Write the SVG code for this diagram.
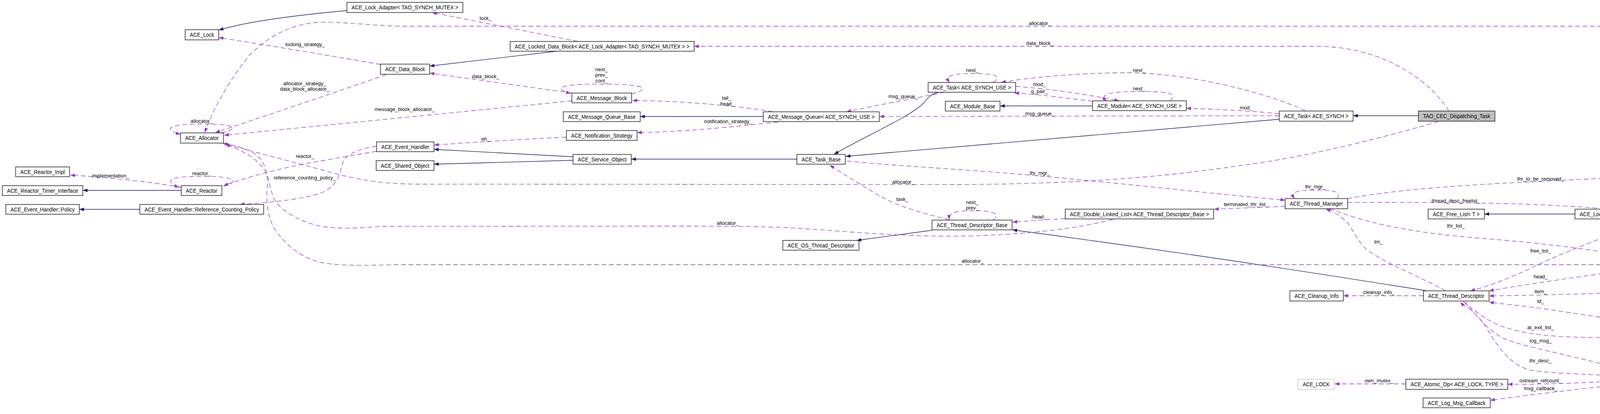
<svg xmlns="http://www.w3.org/2000/svg" width="4947" height="1059" viewBox="0 0 4947 1059">
<style>
.node rect{fill:#fff;stroke:#000;stroke-width:1.3}
.node text{font-family:"Liberation Sans",Arial,sans-serif;font-size:14px;text-anchor:middle;fill:#000}
.inh{fill:none;stroke:#191970;stroke-width:1.3;marker-end:url(#an)}
.use{fill:none;stroke:#9a32cd;stroke-width:1.3;stroke-dasharray:12,7;marker-end:url(#ap)}
.lbl{font-family:"Liberation Sans",Arial,sans-serif;font-size:13px;text-anchor:middle;fill:#000}
</style>
<defs>
<marker id="an" markerUnits="userSpaceOnUse" markerWidth="13" markerHeight="10" refX="12" refY="4.5" orient="auto"><path d="M0,0 L12,4.5 L0,9 z" fill="#191970"/></marker>
<marker id="ap" markerUnits="userSpaceOnUse" markerWidth="13" markerHeight="10" refX="12" refY="4.5" orient="auto"><path d="M0,0 L12,4.5 L0,9 z" fill="#9a32cd"/></marker>
</defs>
<rect x="0" y="0" width="4947" height="1059" fill="#fff"/>
<g id="connectors">
<path class="inh" d="M888,27 C800,35 650,50 560,77"/>
<path class="inh" d="M1425,131 L1100,169"/>
<path class="inh" d="M1954,298 L1639,298"/>
<path class="inh" d="M1467,401 L1111,382"/>
<path class="inh" d="M1467,410 L1111,420"/>
<path class="inh" d="M2040,407 L1616,407"/>
<path class="inh" d="M2402,236 C2380,242 2374,252 2366,262 C2330,300 2200,355 2135,395"/>
<path class="inh" d="M2797,271 L2560,271"/>
<path class="inh" d="M3275,305 L2165,400"/>
<path class="inh" d="M3631,296 L3464,296"/>
<path class="inh" d="M464,487 L212,487"/>
<path class="inh" d="M358,535.5 L203,535.5"/>
<path class="inh" d="M2386,589 L2193,615"/>
<path class="inh" d="M3653,744 Q3100,655 2592,588"/>
<path class="inh" d="M4032,547.5 L3800,547.5"/>

<path class="use" d="M1479,106 L1106,32"/>
<path class="use" d="M974,165 C900,152 760,128 560,96"/>
<path class="use" d="M989,191 C900,222 700,290 551,339"/>
<path class="use" d="M1464,238 L1100,187"/>
<path class="use" d="M1617,240 C1665,228 1660,215 1540,215 C1420,215 1420,228 1461,239"/>
<path class="use" d="M1464,258 L574,346"/>
<path class="use" d="M1979,286 C1900,272 1750,258 1619,257"/>
<path class="use" d="M1992,312 C1900,322 1750,338 1631,339"/>
<path class="use" d="M1450,351 C1300,358 1200,365 1111,371"/>
<path class="use" d="M2418,236 C2380,244 2250,268 2167,286"/>
<path class="use" d="M3275,296 L2251,298"/>
<path class="use" d="M2542,211 C2562,198 2560,188 2490,188 C2430,188 2420,196 2431,211"/>
<path class="use" d="M3341,283 C3250,240 3050,186 2880,186 C2750,187 2620,200 2563,211"/>
<path class="use" d="M2600,221 C2700,228 2800,245 2865,258"/>
<path class="use" d="M2797,259 C2720,250 2650,240 2597,238"/>
<path class="use" d="M2995,258 C3015,240 3000,234 2916,234 C2830,234 2815,244 2833,258"/>
<path class="use" d="M3275,291 C3200,283 3100,279 3037,277"/>
<path class="use" d="M4757,423 C4700,330 4600,180 4440,110 C4380,82 4330,67 4250,67 L1040,67 C960,67 880,55 820,57 C740,60 680,100 640,140 C590,200 550,270 524,339"/>
<path class="use" d="M3709,284 C3650,190 3520,118 3370,118.5 L1777,118.5"/>
<path class="use" d="M3682,311 C3550,350 3350,400 3200,420 C3000,450 2800,470 2460,472 L1060,471 C950,470 880,450 830,436 L574,368"/>
<path class="use" d="M2169,412 C2300,425 2500,435 2672,451 C2900,472 3100,495 3290,512"/>
<path class="use" d="M3423,508 C3432,490 3420,486 3367,486 C3310,486 3305,495 3314,508"/>
<path class="use" d="M2430,562 C2380,550 2300,530 2250,500 C2200,470 2150,440 2124,422"/>
<path class="use" d="M2542,563 C2558,550 2555,539 2490,539 C2440,539 2428,546 2431,562"/>
<path class="use" d="M2727,559 C2680,562 2640,565 2592,568"/>
<path class="use" d="M3290,528 C3230,530 3170,533 3108,535"/>
<path class="use" d="M2849,561 C2780,580 2650,600 2460,604 C2300,606 2150,590 2010,582 C1900,578 1800,578.5 1640,578.5 L975,579 C920,584 870,586 830,580 C780,572 730,548 705,515 C690,490 688,440 670,410 C650,385 610,372 570,367"/>
<path class="use" d="M4098,677 L1013,677 C940,679 870,681 820,671 C770,658 735,630 705,589 C680,550 682,500 685,470 C688,430 650,395 577,369"/>
<path class="use" d="M964,387 C900,398 860,405 830,410 C740,425 640,450 572,475"/>
<path class="use" d="M572,477 C612,465 610,451 516,451 C430,451 420,462 458,480"/>
<path class="use" d="M464,479 C400,468 300,455 180,448"/>
<path class="use" d="M964,374 C920,380 885,395 878,415 C870,440 868,470 830,490 C790,508 700,518 614,523"/>
<path class="use" d="M566,340 C612,330 610,317 519,317 C440,317 410,328 462,344"/>
<path class="use" d="M3449,508 C3600,480 3800,470 4110,456 C4300,447 4450,440 4590,439"/>
<path class="use" d="M3450,518 C3600,517 3800,519 3900,522 C4000,526 4060,530 4110,534"/>
<path class="use" d="M4753,453 C4730,510 4680,580 4620,630 C4560,680 4470,715 4403,731"/>
<path class="use" d="M3404,534 C3500,570 3600,595 3809,611 C3950,622 4100,640 4206,664"/>
<path class="use" d="M3701,744 C3620,700 3560,680 3500,640 C3470,610 3465,590 3450,570 C3430,550 3410,540 3394,535"/>
<path class="use" d="M4233,560 C4150,590 4000,645 3915,688 C3850,718 3800,735 3764,744"/>
<path class="use" d="M4179,690 C4100,700 3950,720 3812,744"/>
<path class="use" d="M4135,749 C4050,752 3950,755 3812,757"/>
<path class="use" d="M4190,825 C4150,820 4100,812 3968,792 C3900,782 3850,778 3812,773"/>
<path class="use" d="M4343,827 C4378,815 4370,802 4270,802 C4175,802 4160,810 4190,826"/>
<path class="use" d="M3746,771 C3780,800 3820,830 3862,840 C3920,858 4000,864 4110,863 C4150,862 4180,857 4194,852"/>
<path class="use" d="M3751,773 C3790,820 3820,855 3862,871 C3920,890 4000,905 4110,933 C4150,943 4190,948 4211,952"/>
<path class="use" d="M4211,969 C4180,965 4140,962 4110,960 C4000,955 3940,952 3915,946 C3860,930 3830,880 3800,830 C3770,790 3745,780 3738,773"/>
<path class="use" d="M4211,962 C4170,968 4130,973 4110,975.5 C4050,980 3950,983 3860,983"/>
<path class="use" d="M4211,970 C4170,977 4140,982 4110,988 C4000,1000 3900,1012 3815,1024"/>
<path class="use" d="M3599,982 L3417,982"/>
<path class="use" d="M3644,756.5 L3439,756.5"/>

<g id="edge-labels">
<text class="lbl" x="1243" y="51">lock_</text>
<text class="lbl" x="781" y="118">locking_strategy_</text>
<text class="lbl" x="780" y="218">allocator_strategy_</text>
<text class="lbl" x="780" y="232">data_block_allocator_</text>
<text class="lbl" x="1243" y="200">data_block_</text>
<text class="lbl" x="1540" y="182">next_</text>
<text class="lbl" x="1540" y="196">prev_</text>
<text class="lbl" x="1540" y="211">cont_</text>
<text class="lbl" x="1036" y="284">message_block_allocator_</text>
<text class="lbl" x="1860" y="255">tail_</text>
<text class="lbl" x="1862" y="270">head_</text>
<text class="lbl" x="1864" y="315">notification_strategy_</text>
<text class="lbl" x="1243" y="360">eh_</text>
<text class="lbl" x="2312" y="251">msg_queue_</text>
<text class="lbl" x="2662" y="295">msg_queue_</text>
<text class="lbl" x="2489" y="184">next_</text>
<text class="lbl" x="2916" y="184">next_</text>
<text class="lbl" x="2661" y="220">mod_</text>
<text class="lbl" x="2661" y="238">q_pair_</text>
<text class="lbl" x="2916" y="231">next_</text>
<text class="lbl" x="3190" y="280">mod_</text>
<text class="lbl" x="2662" y="64">allocator_</text>
<text class="lbl" x="2662" y="115">data_block_</text>
<text class="lbl" x="2312" y="470">allocator_</text>
<text class="lbl" x="2662" y="447">thr_mgr_</text>
<text class="lbl" x="3367" y="482">thr_mgr_</text>
<text class="lbl" x="2310" y="514">task_</text>
<text class="lbl" x="2489" y="522">next_</text>
<text class="lbl" x="2489" y="536">prev_</text>
<text class="lbl" x="2661" y="559">head_</text>
<text class="lbl" x="3190" y="527">terminated_thr_list_</text>
<text class="lbl" x="1863" y="575">allocator_</text>
<text class="lbl" x="2490" y="672">allocator_</text>
<text class="lbl" x="781" y="404">reactor_</text>
<text class="lbl" x="516" y="448">reactor_</text>
<text class="lbl" x="283" y="454">implementation_</text>
<text class="lbl" x="780" y="459">reference_counting_policy_</text>
<text class="lbl" x="516" y="314">allocator_</text>
<text class="lbl" x="3944" y="462">thr_to_be_removed_</text>
<text class="lbl" x="3727" y="518">thread_desc_freelist_</text>
<text class="lbl" x="4545" y="656">head_</text>
<text class="lbl" x="3727" y="582">thr_list_</text>
<text class="lbl" x="3529" y="623">tm_</text>
<text class="lbl" x="3944" y="646">free_list_</text>
<text class="lbl" x="3944" y="712">head_</text>
<text class="lbl" x="3944" y="750">item_</text>
<text class="lbl" x="3944" y="775">td_</text>
<text class="lbl" x="4268" y="799">next_</text>
<text class="lbl" x="3944" y="842">at_exit_list_</text>
<text class="lbl" x="3944" y="876">log_msg_</text>
<text class="lbl" x="3944" y="927">thr_desc_</text>
<text class="lbl" x="3944" y="978">ostream_refcount_</text>
<text class="lbl" x="3944" y="998">msg_callback_</text>
<text class="lbl" x="3530" y="978">own_mutex_</text>
<text class="lbl" x="3530" y="752">cleanup_info_</text>
</g>
</g>

<g id="n_lock" class="node"><rect x="474" y="76" width="86" height="26"/><text x="517" y="94" textLength="62" lengthAdjust="spacingAndGlyphs">ACE_Lock</text></g>
<g id="n_allocator" class="node"><rect x="462" y="340" width="110" height="26"/><text x="517" y="358" textLength="86" lengthAdjust="spacingAndGlyphs">ACE_Allocator</text></g>
<g id="n_reactor_impl" class="node"><rect x="40" y="427" width="138" height="25"/><text x="109" y="444.5" textLength="114" lengthAdjust="spacingAndGlyphs">ACE_Reactor_Impl</text></g>
<g id="n_reactor_timer_interface" class="node"><rect x="6" y="475" width="206" height="25"/><text x="109" y="492.5" textLength="182" lengthAdjust="spacingAndGlyphs">ACE_Reactor_Timer_Interface</text></g>
<g id="n_reactor" class="node"><rect x="464" y="475" width="104" height="25"/><text x="516" y="492.5" textLength="80" lengthAdjust="spacingAndGlyphs">ACE_Reactor</text></g>
<g id="n_policy" class="node"><rect x="15" y="523" width="188" height="25"/><text x="109" y="540.5" textLength="164" lengthAdjust="spacingAndGlyphs">ACE_Event_Handler::Policy</text></g>
<g id="n_ref_policy" class="node"><rect x="358" y="523" width="317" height="25"/><text x="516.5" y="540.5" textLength="293" lengthAdjust="spacingAndGlyphs">ACE_Event_Handler::Reference_Counting_Policy</text></g>
<g id="n_lock_adapter" class="node"><rect x="888" y="6" width="297" height="26"/><text x="1036.5" y="24" textLength="273" lengthAdjust="spacingAndGlyphs">ACE_Lock_Adapter&lt; TAO_SYNCH_MUTEX &gt;</text></g>
<g id="n_locked_data_block" class="node"><rect x="1306" y="106" width="471" height="25"/><text x="1541.5" y="123.5" textLength="447" lengthAdjust="spacingAndGlyphs">ACE_Locked_Data_Block&lt; ACE_Lock_Adapter&lt; TAO_SYNCH_MUTEX &gt; &gt;</text></g>
<g id="n_data_block" class="node"><rect x="974" y="164" width="126" height="26"/><text x="1037" y="182" textLength="102" lengthAdjust="spacingAndGlyphs">ACE_Data_Block</text></g>
<g id="n_message_block" class="node"><rect x="1464" y="238" width="153" height="25"/><text x="1540.5" y="255.5" textLength="129" lengthAdjust="spacingAndGlyphs">ACE_Message_Block</text></g>
<g id="n_mq_base" class="node"><rect x="1442" y="286" width="197" height="25"/><text x="1540.5" y="303.5" textLength="173" lengthAdjust="spacingAndGlyphs">ACE_Message_Queue_Base</text></g>
<g id="n_notification_strategy" class="node"><rect x="1450" y="334" width="181" height="25"/><text x="1540.5" y="351.5" textLength="157" lengthAdjust="spacingAndGlyphs">ACE_Notification_Strategy</text></g>
<g id="n_event_handler" class="node"><rect x="964" y="363" width="147" height="25"/><text x="1037.5" y="380.5" textLength="123" lengthAdjust="spacingAndGlyphs">ACE_Event_Handler</text></g>
<g id="n_shared_object" class="node"><rect x="963" y="411" width="148" height="25"/><text x="1037" y="428.5" textLength="124" lengthAdjust="spacingAndGlyphs">ACE_Shared_Object</text></g>
<g id="n_service_object" class="node"><rect x="1467" y="395" width="149" height="25"/><text x="1541.5" y="412.5" textLength="125" lengthAdjust="spacingAndGlyphs">ACE_Service_Object</text></g>
<g id="n_message_queue" class="node"><rect x="1954" y="286" width="297" height="25"/><text x="2102.5" y="303.5" textLength="273" lengthAdjust="spacingAndGlyphs">ACE_Message_Queue&lt; ACE_SYNCH_USE &gt;</text></g>
<g id="n_task_base" class="node"><rect x="2040" y="395" width="124" height="25"/><text x="2102" y="412.5" textLength="100" lengthAdjust="spacingAndGlyphs">ACE_Task_Base</text></g>
<g id="n_task_use" class="node"><rect x="2376" y="211" width="224" height="25"/><text x="2488" y="228.5" textLength="200" lengthAdjust="spacingAndGlyphs">ACE_Task&lt; ACE_SYNCH_USE &gt;</text></g>
<g id="n_module_base" class="node"><rect x="2420" y="259" width="140" height="25"/><text x="2490" y="276.5" textLength="116" lengthAdjust="spacingAndGlyphs">ACE_Module_Base</text></g>
<g id="n_module" class="node"><rect x="2797" y="258" width="240" height="25"/><text x="2917" y="275.5" textLength="216" lengthAdjust="spacingAndGlyphs">ACE_Module&lt; ACE_SYNCH_USE &gt;</text></g>
<g id="n_task_synch" class="node"><rect x="3275" y="284" width="189" height="26"/><text x="3369.5" y="302" textLength="165" lengthAdjust="spacingAndGlyphs">ACE_Task&lt; ACE_SYNCH &gt;</text></g>
<g id="n_dll_tdb" class="node"><rect x="2727" y="535" width="380" height="25"/><text x="2917" y="552.5" textLength="356" lengthAdjust="spacingAndGlyphs">ACE_Double_Linked_List&lt; ACE_Thread_Descriptor_Base &gt;</text></g>
<g id="n_tdb" class="node"><rect x="2386" y="563" width="205" height="25"/><text x="2488.5" y="580.5" textLength="181" lengthAdjust="spacingAndGlyphs">ACE_Thread_Descriptor_Base</text></g>
<g id="n_os_td" class="node"><rect x="2004" y="615" width="195" height="25"/><text x="2101.5" y="632.5" textLength="171" lengthAdjust="spacingAndGlyphs">ACE_OS_Thread_Descriptor</text></g>
<g id="n_dispatching_task" class="node"><rect x="3631" y="284" width="196" height="26" style="fill:#bfbfbf"/><text x="3729" y="302" textLength="172" lengthAdjust="spacingAndGlyphs">TAO_CEC_Dispatching_Task</text></g>
<g id="n_thread_manager" class="node"><rect x="3290" y="508" width="160" height="26"/><text x="3370" y="526" textLength="136" lengthAdjust="spacingAndGlyphs">ACE_Thread_Manager</text></g>
<g id="n_unbounded_queue" class="node"><rect x="4591" y="423" width="352" height="26"/><text x="4767" y="441" textLength="328" lengthAdjust="spacingAndGlyphs">ACE_Unbounded_Queue&lt; ACE_Thread_Descriptor * &gt;</text></g>
<g id="n_free_list" class="node"><rect x="3656" y="535" width="144" height="25"/><text x="3728" y="552.5" textLength="120" lengthAdjust="spacingAndGlyphs">ACE_Free_List&lt; T &gt;</text></g>
<g id="n_locked_free_list" class="node"><rect x="4032" y="535" width="472" height="25"/><text x="4268" y="552.5" textLength="448" lengthAdjust="spacingAndGlyphs">ACE_Locked_Free_List&lt; ACE_Thread_Descriptor, ACE_SYNCH_MUTEX &gt;</text></g>
<g id="n_dll_td" class="node"><rect x="4098" y="664" width="341" height="26"/><text x="4268.5" y="682" textLength="317" lengthAdjust="spacingAndGlyphs">ACE_Double_Linked_List&lt; ACE_Thread_Descriptor &gt;</text></g>
<g id="n_node" class="node"><rect x="4135" y="728" width="267" height="26"/><text x="4268.5" y="746" textLength="243" lengthAdjust="spacingAndGlyphs">ACE_Node&lt; ACE_Thread_Descriptor * &gt;</text></g>
<g id="n_cleanup_info" class="node"><rect x="3302" y="744" width="137" height="26"/><text x="3370.5" y="762" textLength="113" lengthAdjust="spacingAndGlyphs">ACE_Cleanup_Info</text></g>
<g id="n_thread_descriptor" class="node"><rect x="3644" y="744" width="168" height="26"/><text x="3728" y="762" textLength="144" lengthAdjust="spacingAndGlyphs">ACE_Thread_Descriptor</text></g>
<g id="n_at_thread_exit" class="node"><rect x="4194" y="826" width="149" height="25"/><text x="4268.5" y="843.5" textLength="125" lengthAdjust="spacingAndGlyphs">ACE_At_Thread_Exit</text></g>
<g id="n_ace_lock_type" class="node"><rect x="3323" y="970" width="93" height="26" style="stroke:#bfbfbf"/><text x="3369.5" y="988" textLength="69" lengthAdjust="spacingAndGlyphs">ACE_LOCK</text></g>
<g id="n_atomic_op" class="node"><rect x="3599" y="970" width="261" height="26"/><text x="3729.5" y="988" textLength="237" lengthAdjust="spacingAndGlyphs">ACE_Atomic_Op&lt; ACE_LOCK, TYPE &gt;</text></g>
<g id="n_log_msg_callback" class="node"><rect x="3643" y="1018" width="172" height="25"/><text x="3729" y="1035.5" textLength="148" lengthAdjust="spacingAndGlyphs">ACE_Log_Msg_Callback</text></g>
<g id="n_log_msg" class="node"><rect x="4211" y="948" width="116" height="26"/><text x="4269" y="966" textLength="92" lengthAdjust="spacingAndGlyphs">ACE_Log_Msg</text></g>
</svg>
